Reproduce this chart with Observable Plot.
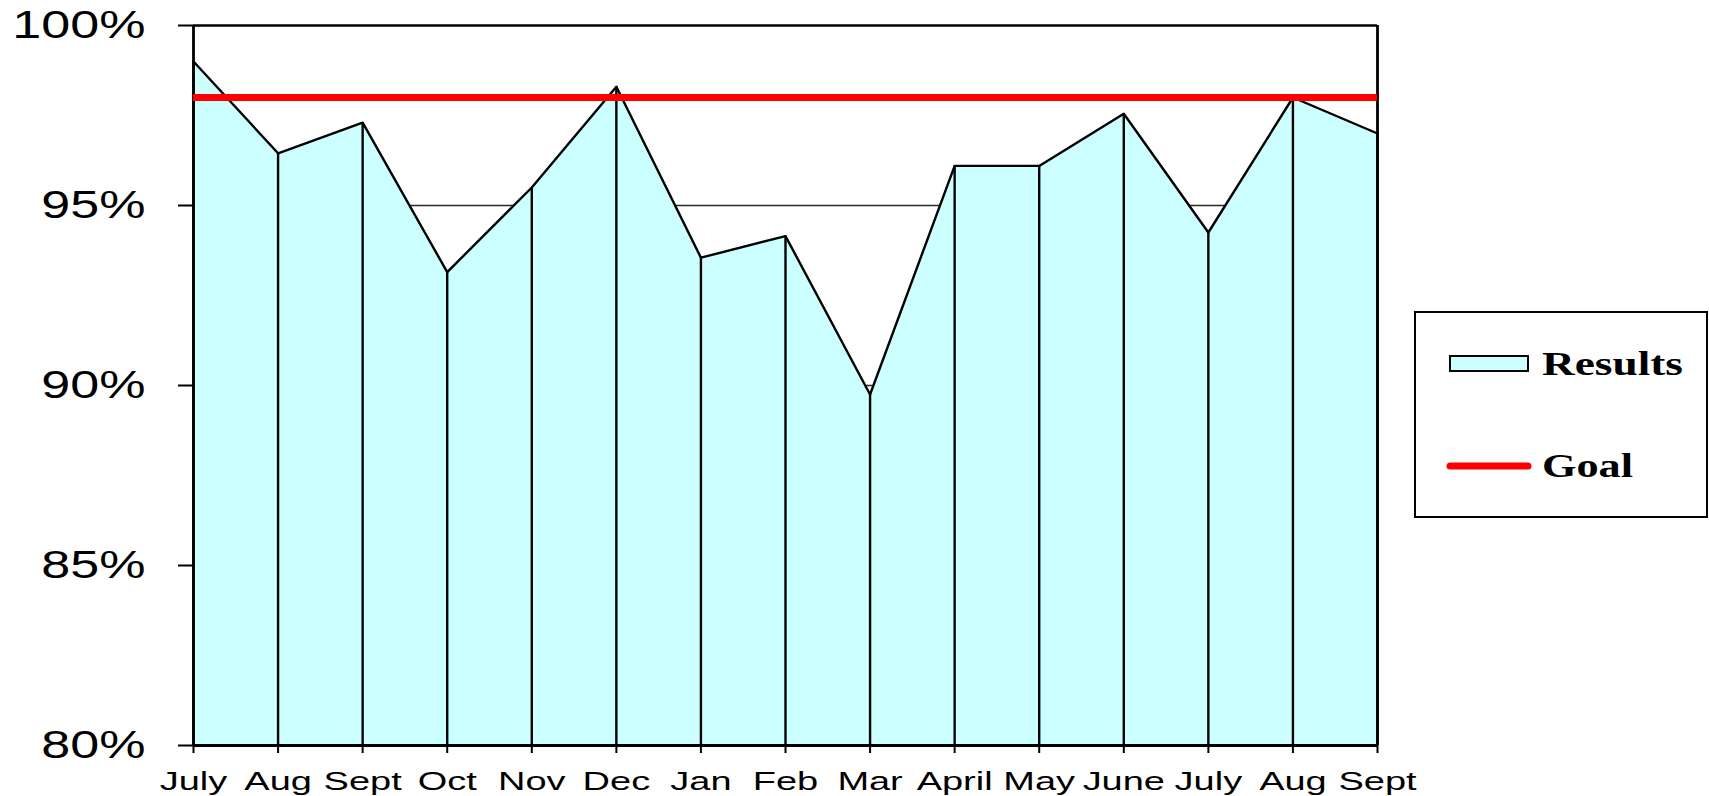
<!DOCTYPE html>
<html>
<head>
<meta charset="utf-8">
<script src="https://cdn.jsdelivr.net/npm/d3@7"></script>
<script src="https://cdn.jsdelivr.net/npm/@observablehq/plot@0.6"></script>
<style>
  html, body { margin: 0; padding: 0; background: #fff; }
  svg { display: block; }
</style>
</head>
<body>
<div id="chart"></div>
<script>
const months = ["July","Aug","Sept","Oct","Nov","Dec","Jan","Feb","Mar","April","May","June","July","Aug","Sept"];
const results = [99.0, 96.45, 97.3, 93.15, 95.5, 98.3, 93.55, 94.15, 89.75, 96.1, 96.1, 97.55, 94.25, 98.0, 97.0];
const goal = 98;
const yTicks = [80, 85, 90, 95, 100];
const gridLines = [85, 90, 95];
const seriesNames = ["Results", "Goal"];

const data = months.map((m, i) => ({i, month: m, value: results[i]}));
const idx = months.map((m, i) => i);
const yMin = 80, yMax = 100;

const chart = Plot.plot({
  width: 1709,
  height: 796,
  marginLeft: 193,
  marginRight: 332,
  marginTop: 25,
  marginBottom: 51,
  style: {fontFamily: "'Liberation Sans', Arial, sans-serif", background: "#fff", color: "#000"},
  x: {type: "linear", domain: [0, months.length - 1], label: null},
  y: {domain: [yMin, yMax], label: null},
  marks: [
    Plot.ruleY(gridLines, {stroke: "#2a2a2a", strokeWidth: 1.6}),
    Plot.areaY(data, {x: "i", y1: yMin, y2: "value", fill: "#CCFFFF", fillOpacity: 1}),
    Plot.ruleX(data, {x: "i", y1: yMin, y2: "value", stroke: "#000", strokeWidth: 2.4}),
    Plot.line(data, {x: "i", y: "value", stroke: "#000", strokeWidth: 2.4}),
    Plot.ruleY([yMax], {stroke: "#000", strokeWidth: 2.4}),
    Plot.ruleX([months.length - 1], {stroke: "#000", strokeWidth: 2.8}),
    Plot.ruleX([0], {stroke: "#000", strokeWidth: 2.8}),
    Plot.ruleY([goal], {stroke: "#FF0000", strokeWidth: 7}),
    Plot.ruleY([yMin], {stroke: "#000", strokeWidth: 3}),
    Plot.axisY({ticks: yTicks, tickFormat: d => d + "%", tickSize: 15, tickPadding: 33, fontSize: 38, stroke: "#000", strokeWidth: 2, label: null}),
    Plot.axisX({ticks: idx, tickFormat: i => months[i], tickSize: 8, tickPadding: 18, fontSize: 26, stroke: "#000", strokeWidth: 2, label: null})
  ]
});

document.getElementById("chart").appendChild(chart);

// horizontal stretch of tick labels (the reference's text is widened)
function stretch(sel, k) {
  d3.select(chart).selectAll(sel).each(function() {
    const w = this.getComputedTextLength();
    this.setAttribute("textLength", w * k);
    this.setAttribute("lengthAdjust", "spacingAndGlyphs");
  });
}
stretch('g[aria-label="y-axis tick label"] text', 1.37);
stretch('g[aria-label="x-axis tick label"] text', 1.46);

// legend
const svg = d3.select(chart);
const lg = svg.append("g").attr("class", "legend").attr("text-anchor", "start");
lg.append("rect").attr("x", 1415).attr("y", 312).attr("width", 292).attr("height", 205)
  .attr("fill", "#fff").attr("stroke", "#000").attr("stroke-width", 2);
lg.append("rect").attr("x", 1450).attr("y", 356).attr("width", 78).attr("height", 15)
  .attr("fill", "#CCFFFF").attr("stroke", "#000").attr("stroke-width", 2);
lg.append("line").attr("x1", 1450).attr("x2", 1528).attr("y1", 466).attr("y2", 466)
  .attr("stroke", "#FF0000").attr("stroke-width", 7).attr("stroke-linecap", "round");
const lt = [[seriesNames[0], 375, 141], [seriesNames[1], 477, 91]];
lt.forEach(([t, y, w]) => {
  lg.append("text").attr("x", 1542).attr("y", y).text(t)
    .attr("text-anchor", "start")
    .attr("font-family", "'Liberation Serif', 'Times New Roman', serif")
    .attr("font-weight", "bold").attr("font-size", 33).attr("fill", "#000")
    .attr("textLength", w).attr("lengthAdjust", "spacingAndGlyphs");
});
</script>
</body>
</html>
